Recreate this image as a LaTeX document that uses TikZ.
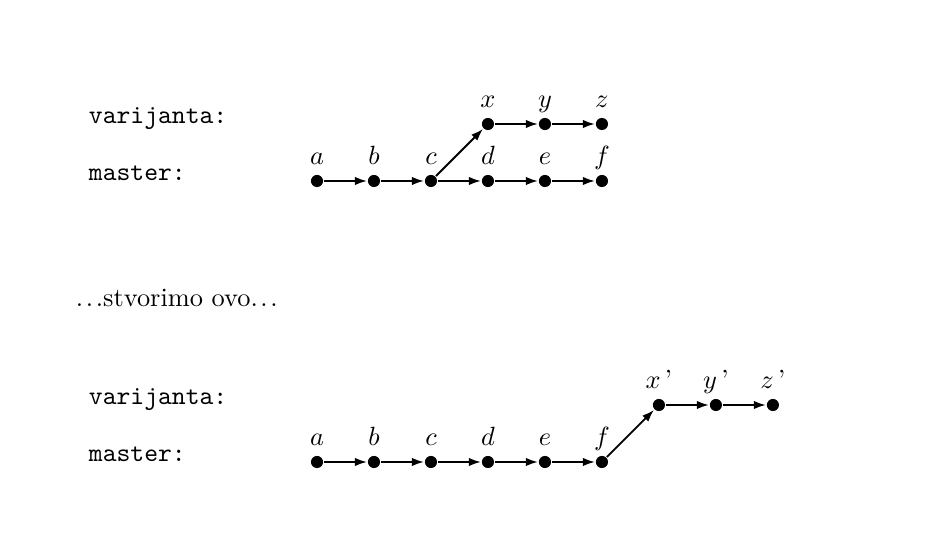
\documentclass[tikz,border=0pt]{standalone}
\usepackage{tikz}
\usetikzlibrary{positioning,arrows.meta}

\newcommand{\tri}{.\kern1pt.\kern1pt.}

\begin{document}
\begin{tikzpicture}[
  x=0.01333cm, y=-0.01333cm,
  node distance=0.76cm, on grid,
  dot/.style={circle, fill, inner sep=0pt, minimum size=4.6pt},
  branch/.style={font=\ttfamily, anchor=base west, inner sep=0pt},
  every label/.style={inner sep=2pt, text height=1.5ex, text depth=0.25ex},
  every path/.style={line width=0.7pt},
  >={Latex[length=4.6pt,width=3.2pt]}
]
\useasboundingbox (0,0) rectangle (943,544);

% prije
\node[branch] (v1) at (88,124) {varijanta:};
\node[branch] (m1) at (88,181) {master:};
\node[dot, label=above:$a$] (a1) at (317,181) {};
\node[dot, label=above:$b$, right=of a1] (b1) {};
\node[dot, label=above:$c$, right=of b1] (c1) {};
\node[dot, label=above:$d$, right=of c1] (d1) {};
\node[dot, label=above:$e$, right=of d1] (e1) {};
\node[dot, label=above:$f$, right=of e1] (f1) {};
\node[dot, label=above:$x$, above right=0.76cm and 0.76cm of c1] (x1) {};
\node[dot, label=above:$y$, right=of x1] (y1) {};
\node[dot, label=above:$z$, right=of y1] (z1) {};

\draw[->] (a1) -- (b1);
\draw[->] (b1) -- (c1);
\draw[->] (c1) -- (d1);
\draw[->] (d1) -- (e1);
\draw[->] (e1) -- (f1);
\draw[->] (c1) -- (x1);
\draw[->] (x1) -- (y1);
\draw[->] (y1) -- (z1);

\node[anchor=base west, inner sep=0pt] (txt) at (75,307) {\tri stvorimo ovo\tri};

% poslije
\node[branch] (v2) at (88,405) {varijanta:};
\node[branch] (m2) at (88,462) {master:};
\node[dot, label=above:$a$] (a2) at (317,462) {};
\node[dot, label=above:$b$, right=of a2] (b2) {};
\node[dot, label=above:$c$, right=of b2] (c2) {};
\node[dot, label=above:$d$, right=of c2] (d2) {};
\node[dot, label=above:$e$, right=of d2] (e2) {};
\node[dot, label=above:$f$, right=of e2] (f2) {};
\node[dot, label=above:{$x$\,'}, above right=0.76cm and 0.76cm of f2] (x2) {};
\node[dot, label=above:{$y$\,'}, right=of x2] (y2) {};
\node[dot, label=above:{$z$\,'}, right=of y2] (z2) {};

\draw[->] (a2) -- (b2);
\draw[->] (b2) -- (c2);
\draw[->] (c2) -- (d2);
\draw[->] (d2) -- (e2);
\draw[->] (e2) -- (f2);
\draw[->] (f2) -- (x2);
\draw[->] (x2) -- (y2);
\draw[->] (y2) -- (z2);
\end{tikzpicture}
\end{document}
